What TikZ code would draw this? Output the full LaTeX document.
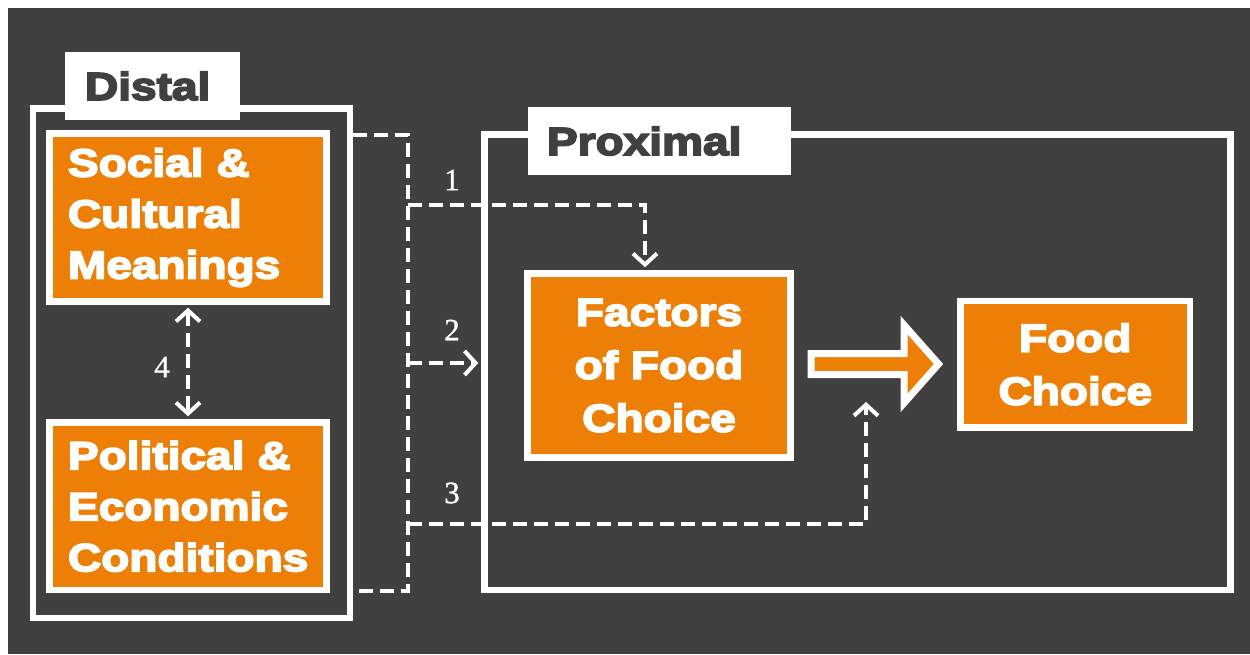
\documentclass[tikz,border=0pt]{standalone}
\usepackage{fontspec}
\setmainfont{Liberation Serif}
\newfontfamily\heavy{Liberation Sans Bold}[FakeStretch=1.18,FakeBold=4.5]
\newfontfamily\numfont{Liberation Serif}[FakeBold=1]
\usetikzlibrary{arrows.meta}

\definecolor{slate}{RGB}{64,64,64}
\definecolor{amber}{RGB}{237,126,6}

\tikzset{
  frame/.style={draw=white, line width=6.5pt, inner sep=0pt},
  tagbox/.style={fill=white, text=slate, align=left, minimum height=68pt,
    inner ysep=0pt, font=\heavy\fontsize{39}{47}\selectfont},
  factor/.style={draw=white, fill=amber, line width=6.5pt, text=white,
    inner ysep=0pt},
  leftfactor/.style={factor, align=left, inner xsep=18.5pt, text width=240pt,
    font=\heavy\fontsize{39}{51}\selectfont},
  midfactor/.style={factor, align=center,
    font=\heavy\fontsize{39}{53}\selectfont},
  link/.style={draw=white, line width=4pt, dash pattern=on 14pt off 7pt},
  barb/.tip={Straight Barb[length=11pt,width=24pt,line width=4pt]},
  tip/.style={-barb},
  twotips/.style={barb-barb},
  num/.style={text=white, inner sep=0pt, font=\numfont\fontsize{31}{31}\selectfont},
}

\begin{document}
\begin{tikzpicture}[x=1pt, y=-1pt]
  \useasboundingbox (0,0) rectangle (1250,654);
  \fill[white] (0,0) rectangle (1250,654);
  \fill[slate] (8,8) rectangle (1250,654);

  % outer frames
  \node[frame, minimum width=317pt, minimum height=509.5pt] (distal) at (191.5,363.25) {};
  \node[frame, minimum width=746pt, minimum height=455.5pt] (proximal) at (857.5,362.25) {};

  % frame titles
  \node[tagbox, minimum width=175pt, inner xsep=20pt, text width=135pt] (distaltag) at (152.5,86) {Distal};
  \node[tagbox, minimum width=263pt, inner xsep=19pt, text width=225pt] (proximaltag) at (659.5,141) {Proximal};

  % distal factors
  \node[leftfactor, minimum width=277pt, minimum height=168pt] (social) at (188,217.5)
    {Social \&\\Cultural\\Meanings};
  \node[leftfactor, minimum width=277pt, minimum height=167.5pt] (political) at (188,506.25)
    {Political \&\\Economic\\Conditions};

  % proximal factors and outcome
  \node[midfactor, minimum width=263pt, minimum height=184pt] (factors) at (659,365.5)
    {Factors\\of Food\\Choice};
  \node[midfactor, minimum width=229.5pt, minimum height=126.5pt] (choice) at (1075.25,364.25)
    {Food\\Choice};

  % block arrow between factors and food choice
  \draw[white, line width=7pt, fill=amber]
    (811,353.5) -- (904,353.5) -- (904,325) -- (938.5,364) -- (904,403)
    -- (904,374.5) -- (811,374.5) -- cycle;

  % bracket gathering the distal factors
  \coordinate (bt) at (408,135);
  \coordinate (bb) at (408,591);
  \draw[link] (distal.east |- bt) -- (bt) -- (bb) -- (distal.east |- bb);

  % pathway 1
  \coordinate (j1) at (408,205);
  \coordinate (c1) at (645,205);
  \draw[link, tip, shorten >=3pt] (j1) -- (c1) -- (c1 |- factors.north);
  \node[num] (n1) at (452,180) {1};

  % pathway 2
  \coordinate (j2) at (408,363);
  \draw[link, tip, shorten >=3pt] (j2) -- (proximal.west |- j2);
  \node[num] (n2) at (452,330) {2};

  % pathway 3
  \coordinate (j3) at (408,524);
  \coordinate (c3) at (866,524);
  \coordinate (t3) at (866,402);
  \draw[link, tip] (j3) -- (c3) -- (t3);
  \node[num] (n3) at (452,493) {3};

  % pathway 4
  \draw[link, twotips, shorten >=3pt, shorten <=3pt] (social.south) -- (political.north);
  \node[num] (n4) at (162,367) {4};
\end{tikzpicture}
\end{document}
